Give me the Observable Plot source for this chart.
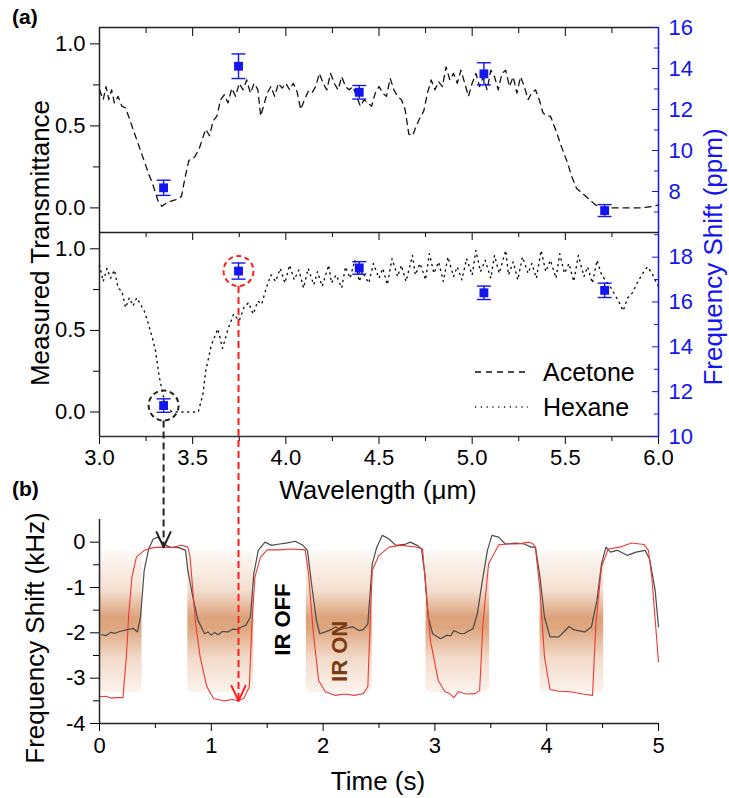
<!DOCTYPE html>
<html><head><meta charset="utf-8">
<script src="https://cdn.jsdelivr.net/npm/d3@7"></script>
<script src="https://cdn.jsdelivr.net/npm/@observablehq/plot@0.6"></script>
<style>
body{margin:0;background:#fff;}
#fig{position:relative;width:729px;height:798px;overflow:hidden;font-family:"Liberation Sans",Arial,Helvetica,sans-serif;}
#fig svg.p{position:absolute;left:0;top:0;}
.t{position:absolute;white-space:nowrap;color:#000;line-height:1;}
.rot{transform:translate(-50%,-50%) rotate(-90deg);}
</style></head><body><div id="fig"></div><script>
// ---------------- DATA ----------------
// Panel (a): measured transmittance vs wavelength (µm)
const acetoneData = [
[3.00,0.72],[3.02,0.66],[3.035,0.74],[3.05,0.66],[3.065,0.72],[3.08,0.64],[3.10,0.68],[3.12,0.62],[3.14,0.61],
[3.18,0.48],[3.225,0.335],[3.26,0.22],[3.29,0.13],[3.315,0.04],[3.335,0.01],[3.36,0.03],[3.38,0.04],[3.41,0.05],
[3.44,0.07],[3.46,0.19],[3.48,0.29],[3.51,0.31],[3.535,0.36],[3.555,0.43],[3.57,0.48],[3.59,0.44],[3.61,0.53],
[3.63,0.56],[3.65,0.66],[3.67,0.69],[3.69,0.64],[3.71,0.73],[3.73,0.68],[3.75,0.76],[3.77,0.72],[3.79,0.78],
[3.81,0.70],[3.83,0.76],[3.85,0.72],[3.865,0.56],[3.88,0.62],[3.90,0.70],[3.92,0.74],[3.94,0.68],[3.96,0.76],
[3.98,0.73],[4.00,0.76],[4.02,0.72],[4.04,0.76],[4.06,0.71],[4.08,0.60],[4.10,0.66],[4.12,0.71],[4.14,0.70],
[4.16,0.74],[4.18,0.82],[4.20,0.76],[4.22,0.72],[4.24,0.82],[4.26,0.76],[4.28,0.72],[4.30,0.80],[4.32,0.74],
[4.34,0.72],[4.36,0.74],[4.38,0.68],[4.40,0.62],[4.42,0.66],[4.44,0.64],[4.46,0.62],[4.48,0.70],[4.50,0.74],
[4.52,0.70],[4.54,0.68],[4.56,0.79],[4.58,0.72],[4.60,0.68],[4.62,0.66],[4.64,0.60],[4.66,0.45],[4.68,0.44],
[4.70,0.50],[4.72,0.55],[4.74,0.59],[4.76,0.70],[4.78,0.78],[4.80,0.72],[4.82,0.77],[4.84,0.74],[4.86,0.86],
[4.88,0.78],[4.90,0.82],[4.92,0.76],[4.94,0.84],[4.96,0.76],[4.98,0.68],[5.00,0.76],[5.02,0.82],[5.04,0.74],
[5.06,0.80],[5.08,0.72],[5.10,0.84],[5.12,0.80],[5.14,0.72],[5.16,0.82],[5.18,0.84],[5.20,0.74],[5.22,0.80],
[5.24,0.70],[5.26,0.80],[5.28,0.74],[5.30,0.66],[5.32,0.70],[5.34,0.72],[5.36,0.66],[5.38,0.58],[5.40,0.56],
[5.42,0.56],[5.45,0.47],[5.48,0.37],[5.51,0.28],[5.535,0.19],[5.56,0.12],[5.60,0.08],[5.63,0.05],[5.66,0.02],
[5.70,0.00],[5.80,0.00],[5.90,0.00],[5.98,0.01],[6.00,0.02]
];
const hexaneData = [
[3.00,0.90],[3.02,0.80],[3.04,0.88],[3.06,0.82],[3.08,0.87],[3.10,0.76],[3.12,0.74],[3.14,0.64],[3.16,0.70],
[3.18,0.65],[3.20,0.70],[3.22,0.66],[3.24,0.62],[3.26,0.55],[3.28,0.47],[3.30,0.38],[3.32,0.22],[3.34,0.11],
[3.36,0.03],[3.39,0.00],[3.53,0.00],[3.555,0.11],[3.57,0.25],[3.60,0.41],[3.635,0.51],[3.66,0.39],[3.69,0.51],
[3.72,0.60],[3.75,0.56],[3.775,0.64],[3.80,0.67],[3.825,0.60],[3.85,0.68],[3.87,0.66],[3.895,0.76],[3.92,0.84],
[3.945,0.80],[3.97,0.88],[3.995,0.79],[4.02,0.90],[4.045,0.81],[4.07,0.87],[4.095,0.76],[4.12,0.88],[4.15,0.78],
[4.17,0.86],[4.195,0.77],[4.23,0.90],[4.245,0.79],[4.27,0.84],[4.30,0.76],[4.32,0.89],[4.345,0.82],[4.37,0.93],
[4.395,0.80],[4.41,0.86],[4.445,0.79],[4.47,0.91],[4.50,0.82],[4.52,0.88],[4.545,0.78],[4.57,0.94],[4.60,0.83],
[4.62,0.90],[4.645,0.80],[4.68,0.96],[4.695,0.84],[4.72,0.91],[4.75,0.81],[4.77,0.97],[4.795,0.85],[4.82,0.92],
[4.845,0.80],[4.87,0.95],[4.90,0.83],[4.92,0.89],[4.945,0.81],[4.97,0.94],[5.00,0.84],[5.02,0.99],[5.045,0.86],
[5.07,0.93],[5.10,0.82],[5.12,0.96],[5.145,0.85],[5.18,0.99],[5.195,0.84],[5.22,0.92],[5.245,0.81],[5.27,0.95],
[5.30,0.85],[5.32,0.91],[5.345,0.82],[5.37,0.99],[5.395,0.86],[5.42,0.93],[5.45,0.82],[5.47,0.97],[5.495,0.85],
[5.52,0.91],[5.545,0.80],[5.57,0.96],[5.60,0.83],[5.62,0.89],[5.645,0.79],[5.67,0.93],[5.695,0.84],[5.72,0.80],
[5.745,0.76],[5.765,0.72],[5.79,0.67],[5.81,0.62],[5.835,0.70],[5.86,0.73],[5.885,0.79],[5.91,0.84],[5.94,0.89],
[5.965,0.85],[5.99,0.79],[6.00,0.77]
];
// Frequency shift (ppm) at five laser wavelengths
const ppmWl = [3.344, 3.746, 4.394, 5.063, 5.711];
const acetonePpm = [8.18, 14.11, 12.84, 13.74, 7.07];
const acetonePpmErr = [0.37, 0.60, 0.33, 0.54, 0.29];
const hexanePpm = [11.38, 17.38, 17.52, 16.41, 16.52];
const hexanePpmErr = [0.30, 0.36, 0.28, 0.30, 0.32];
// Panel (b): frequency shift (kHz) vs time (s)
const blackTrace = [
[0.02,-2.04],[0.06,-2.06],[0.10,-1.99],[0.14,-2.01],[0.18,-1.97],[0.23,-1.94],[0.27,-1.92],[0.30,-1.90],[0.34,-1.98],
[0.367,-1.65],[0.40,-0.62],[0.44,-0.15],[0.48,0.07],[0.52,0.11],[0.57,-0.04],[0.63,-0.11],[0.71,-0.12],[0.77,-0.18],
[0.79,-0.62],[0.835,-1.21],[0.88,-1.72],[0.94,-2.02],[0.97,-1.98],[1.00,-2.05],[1.03,-1.99],[1.06,-2.04],[1.10,-1.97],
[1.15,-1.98],[1.19,-1.92],[1.23,-1.93],[1.27,-1.87],[1.31,-1.83],[1.35,-1.65],[1.38,-0.70],[1.42,-0.18],[1.48,0.00],
[1.54,-0.07],[1.61,-0.04],[1.67,-0.02],[1.75,0.02],[1.82,-0.07],[1.86,-0.18],[1.90,-0.99],[1.94,-1.72],[1.97,-2.02],
[2.02,-1.98],[2.07,-1.93],[2.11,-1.87],[2.15,-1.92],[2.19,-1.91],[2.23,-1.88],[2.27,-1.87],[2.32,-1.95],[2.36,-1.93],
[2.40,-1.80],[2.44,-0.48],[2.48,-0.11],[2.53,0.15],[2.59,0.07],[2.65,-0.07],[2.73,-0.05],[2.78,0.00],[2.84,-0.07],
[2.88,-0.15],[2.91,-0.70],[2.94,-1.65],[2.98,-2.02],[3.05,-2.13],[3.11,-2.05],[3.14,-2.07],[3.17,-1.95],[3.22,-2.01],
[3.26,-2.02],[3.30,-1.96],[3.34,-1.91],[3.38,-1.58],[3.42,-0.92],[3.47,-0.18],[3.51,0.15],[3.57,0.11],[3.63,-0.04],
[3.72,-0.02],[3.80,-0.04],[3.86,-0.11],[3.90,-0.11],[3.94,-0.77],[3.98,-1.65],[4.03,-2.09],[4.11,-2.09],[4.16,-1.96],
[4.20,-1.86],[4.24,-1.93],[4.28,-1.95],[4.34,-1.98],[4.40,-1.87],[4.45,-1.28],[4.49,-0.48],[4.53,-0.11],[4.57,-0.22],
[4.63,-0.18],[4.72,-0.29],[4.80,-0.22],[4.88,-0.18],[4.92,-0.37],[4.97,-1.06],[5.00,-1.87]
];
const redTrace = [
[0.00,-3.41],[0.06,-3.40],[0.10,-3.44],[0.15,-3.43],[0.21,-3.43],[0.24,-2.53],[0.26,-1.65],[0.29,-0.77],[0.33,-0.33],
[0.40,-0.18],[0.48,-0.12],[0.56,-0.11],[0.65,-0.12],[0.73,-0.07],[0.79,-0.11],[0.81,-0.33],[0.86,-1.80],[0.90,-2.53],
[0.96,-3.19],[1.02,-3.45],[1.11,-3.50],[1.19,-3.47],[1.24,-3.50],[1.29,-3.45],[1.34,-3.19],[1.36,-1.94],[1.39,-0.77],
[1.44,-0.33],[1.50,-0.17],[1.61,-0.17],[1.71,-0.15],[1.84,-0.17],[1.87,-0.70],[1.91,-1.94],[1.96,-3.05],[2.02,-3.30],
[2.11,-3.38],[2.19,-3.35],[2.28,-3.38],[2.36,-3.34],[2.40,-3.19],[2.42,-1.80],[2.44,-0.62],[2.50,-0.29],[2.59,-0.11],
[2.69,-0.07],[2.82,-0.10],[2.89,-0.15],[2.92,-1.06],[2.96,-2.17],[3.03,-3.05],[3.09,-3.30],[3.13,-3.34],[3.17,-3.43],
[3.21,-3.30],[3.28,-3.35],[3.36,-3.34],[3.40,-3.27],[3.43,-1.80],[3.48,-0.48],[3.57,-0.06],[3.65,-0.04],[3.74,-0.04],
[3.84,0.00],[3.88,-0.04],[3.90,-0.15],[3.94,-1.06],[3.98,-2.53],[4.03,-3.25],[4.11,-3.29],[4.21,-3.30],[4.32,-3.35],
[4.41,-3.38],[4.44,-1.80],[4.49,-0.55],[4.55,-0.15],[4.65,-0.11],[4.76,-0.02],[4.87,-0.05],[4.91,-0.18],[4.94,-0.77],
[5.00,-2.64]
];
const irOnStart = [0.00, 0.79, 1.85, 2.92, 3.94];
const irOnEnd   = [0.38, 1.38, 2.44, 3.49, 4.51];
const bandTop = -0.2, bandBottom = -3.32;
const arrowTips = [-0.11, -3.5];   // kHz values the two arrows point to
const irLabels = [{t:1.64, k:-1.71, text:"IR OFF"}, {t:2.15, k:-2.41, text:"IR ON"}];
// tick values
const wlTicks = [3, 3.5, 4, 4.5, 5, 5.5, 6];
const wlMinor = [3.25, 3.75, 4.25, 4.75, 5.25, 5.75];
const transTicks = [0, 0.5, 1];
const transMinor = [0.25, 0.75];
const ppmTicksTop = [8, 10, 12, 14, 16];
const ppmMinorTop = [7, 9, 11, 13, 15];
const ppmTicksBot = [10, 12, 14, 16, 18];
const ppmMinorBot = [11, 13, 15, 17, 19];
const timeTicks = [0, 1, 2, 3, 4, 5];
const timeMinor = [0.5, 1.5, 2.5, 3.5, 4.5];
const khzTicks = [-4, -3, -2, -1, 0];
const khzMinor = [-3.5, -2.5, -1.5, -0.5];

// ---------------- DRAWING ----------------
const BLUE = "#1515f0";
const FONT = '"Liberation Sans", Arial, Helvetica, sans-serif';
const fig = document.getElementById("fig");
const W = 729, ML = 99, MR = 71;
const TF = 22;
const baseStyle = {background: "transparent", overflow: "visible", fontFamily: FONT, color: "#000"};
const place = (el) => { el.classList.add("p"); fig.appendChild(el); return el; };
const capSymbol = {draw(ctx, size) { const r = Math.sqrt(size / Math.PI); ctx.moveTo(-r, 0); ctx.lineTo(r, 0); }};
const noLab = () => "";
const f1 = d3.format(".1f");

const acetone = acetoneData.map(([wl, t]) => ({wl, t}));
const hexane = hexaneData.map(([wl, t]) => ({wl, t}));
const topPts = ppmWl.map((wl, i) => ({wl, v: acetonePpm[i], e: acetonePpmErr[i]}));
const botPts = ppmWl.map((wl, i) => ({wl, v: hexanePpm[i], e: hexanePpmErr[i]}));
const bands = irOnStart.map((s, i) => ({s, e: irOnEnd[i]}));

function pointMarks(pts) {
  return [
    Plot.ruleX(pts, {x: "wl", y1: d => d.v - d.e, y2: d => d.v + d.e, stroke: BLUE, strokeWidth: 1.4}),
    Plot.dot(pts, {x: "wl", y: d => d.v - d.e, symbol: capSymbol, r: 7, stroke: BLUE, fill: "none", strokeWidth: 1.4}),
    Plot.dot(pts, {x: "wl", y: d => d.v + d.e, symbol: capSymbol, r: 7, stroke: BLUE, fill: "none", strokeWidth: 1.4}),
    Plot.dot(pts, {x: "wl", y: "v", symbol: "square", r: 5, fill: BLUE, stroke: "none"})
  ];
}

// ---- panel (a) top: acetone ----
const gA1 = {width: W, height: 240, marginLeft: ML, marginRight: MR, marginTop: 27, marginBottom: 8};
place(Plot.plot({
  ...gA1, style: baseStyle,
  x: {domain: [3, 6]}, y: {domain: [-0.15, 1.1]},
  marks: [
    Plot.axisY(transTicks, {anchor: "left", tickSize: 9, tickPadding: 5, tickFormat: f1, fontSize: TF, label: null}),
    Plot.axisY(transMinor, {anchor: "left", tickSize: 6, tickFormat: noLab, label: null}),
    Plot.axisX(wlTicks, {anchor: "top", tickSize: -8, tickFormat: noLab, label: null}),
    Plot.axisX(wlMinor, {anchor: "top", tickSize: -5, tickFormat: noLab, label: null}),
    Plot.axisX(wlTicks, {anchor: "bottom", tickSize: 8, tickFormat: noLab, label: null}),
    Plot.axisX(wlMinor, {anchor: "bottom", tickSize: 5, tickFormat: noLab, label: null}),
    Plot.ruleY([1.1], {stroke: "#222", strokeWidth: 1.5}),
    Plot.ruleY([-0.15], {stroke: "#222", strokeWidth: 1.5}),
    Plot.ruleX([3], {stroke: "#222", strokeWidth: 1.5}),
    Plot.line(acetone, {x: "wl", y: "t", stroke: "#111", strokeWidth: 1.3, strokeDasharray: "6,5"})
  ]
}));
place(Plot.plot({
  ...gA1, style: baseStyle,
  x: {domain: [3, 6], axis: null}, y: {domain: [6, 16]},
  marks: [
    Plot.axisY(ppmTicksTop, {anchor: "right", tickSize: -7, tickPadding: 17, color: BLUE, fontSize: TF, label: null}),
    Plot.axisY(ppmMinorTop, {anchor: "right", tickSize: -5, tickFormat: noLab, color: BLUE, label: null}),
    Plot.ruleX([6], {stroke: BLUE, strokeWidth: 1.5}),
    ...pointMarks(topPts)
  ]
}));

// ---- panel (a) bottom: hexane ----
const gA2 = {width: W, height: 500, marginLeft: ML, marginRight: MR, marginTop: 232, marginBottom: 64};
place(Plot.plot({
  ...gA2, style: baseStyle,
  x: {domain: [3, 6]}, y: {domain: [-0.15, 1.1]},
  marks: [
    Plot.axisY(transTicks, {anchor: "left", tickSize: 9, tickPadding: 5, tickFormat: f1, fontSize: TF, label: null}),
    Plot.axisY(transMinor, {anchor: "left", tickSize: 6, tickFormat: noLab, label: null}),
    Plot.axisX(wlTicks, {anchor: "bottom", tickSize: 8, tickPadding: 5, tickFormat: f1, fontSize: TF, label: null}),
    Plot.axisX(wlMinor, {anchor: "bottom", tickSize: 5, tickFormat: noLab, label: null}),
    Plot.ruleY([-0.15], {stroke: "#333", strokeWidth: 1.5}),
    Plot.ruleX([3], {stroke: "#222", strokeWidth: 1.5}),
    Plot.line(hexane, {x: "wl", y: "t", stroke: "#111", strokeWidth: 1.4, strokeDasharray: "1.2,4.6"})
  ]
}));
const CIRCLE_R = 15;
const A2R = place(Plot.plot({
  ...gA2, style: baseStyle,
  x: {domain: [3, 6], axis: null}, y: {domain: [10, 19.1]},
  marks: [
    Plot.axisY(ppmTicksBot, {anchor: "right", tickSize: -7, tickPadding: 17, color: BLUE, fontSize: TF, label: null}),
    Plot.axisY(ppmMinorBot, {anchor: "right", tickSize: -5, tickFormat: noLab, color: BLUE, label: null}),
    Plot.ruleX([6], {stroke: BLUE, strokeWidth: 1.5}),
    ...pointMarks(botPts),
    Plot.dot([botPts[0]], {x: "wl", y: "v", r: CIRCLE_R, stroke: "#222", strokeWidth: 2, strokeDasharray: "5,3.5", fill: "none"}),
    Plot.dot([botPts[1]], {x: "wl", y: "v", r: CIRCLE_R, stroke: "#ff1e1e", strokeWidth: 2, strokeDasharray: "5,3.5", fill: "none"})
  ]
}));

// ---- panel (b) ----
function makeB(extra) {
  return Plot.plot({
    width: W, height: 798, marginLeft: ML, marginRight: MR, marginTop: 519, marginBottom: 75,
    style: baseStyle,
    x: {domain: [0, 5]}, y: {domain: [-4, 0.5]},
    marks: [
      Plot.rect(bands, {x1: "s", x2: "e", y1: bandBottom, y2: bandTop, fill: "url(#irgrad)", rx: 5}),
      Plot.line(blackTrace, {x: d => d[0], y: d => d[1], stroke: "#4a4a4a", strokeWidth: 1.2}),
      Plot.line(redTrace, {x: d => d[0], y: d => d[1], stroke: "#ee3a34", strokeWidth: 1.1}),
      Plot.text([irLabels[0]], {x: "t", y: "k", text: "text", rotate: -90, fontWeight: "bold", fontSize: 22, fill: "#000"}),
      Plot.text([irLabels[1]], {x: "t", y: "k", text: "text", rotate: -90, fontWeight: "bold", fontSize: 22, fill: "#7b3a10"}),
      Plot.ruleX([0], {stroke: "#222", strokeWidth: 1.5}),
      Plot.ruleY([-4], {stroke: "#222", strokeWidth: 1.5}),
      Plot.axisY(khzTicks, {anchor: "left", tickSize: 9, tickPadding: 5, tickFormat: d => String(d), fontSize: TF, label: null}),
      Plot.axisY(khzMinor, {anchor: "left", tickSize: 6, tickFormat: noLab, label: null}),
      Plot.axisX(timeTicks, {anchor: "bottom", tickSize: 8, tickPadding: 6, tickFormat: d => String(d), fontSize: TF, label: null}),
      Plot.axisX(timeMinor, {anchor: "bottom", tickSize: 5, tickFormat: noLab, label: null}),
      ...extra
    ]
  });
}
const tmpB = makeB([]);
const xA = A2R.scale("x"), yA = A2R.scale("y");
const xB = tmpB.scale("x"), yB = tmpB.scale("y");
const arrowColors = ["#222", "#ff1e1e"];
const HEAD_W = 7, HEAD_L = 15;
const arrowMarks = [0, 1].flatMap(i => {
  const px = xA.apply(ppmWl[i]);
  const t = xB.invert(px);
  const tipPx = yB.apply(arrowTips[i]);
  const shaft = {t, y1: yB.invert(yA.apply(hexanePpm[i]) + CIRCLE_R), y2: arrowTips[i]};
  const wy = yB.invert(tipPx - HEAD_L);
  const wings = [
    {x1: xB.invert(px - HEAD_W), y1: wy, x2: t, y2: arrowTips[i]},
    {x1: xB.invert(px + HEAD_W), y1: wy, x2: t, y2: arrowTips[i]}
  ];
  return [
    Plot.link([shaft], {x1: "t", x2: "t", y1: "y1", y2: "y2", stroke: arrowColors[i], strokeWidth: 2, strokeDasharray: "7,4"}),
    Plot.link(wings, {x1: "x1", y1: "y1", x2: "x2", y2: "y2", stroke: arrowColors[i], strokeWidth: 2, strokeLinecap: "round"})
  ];
});
const B = place(makeB(arrowMarks));
// gradient for IR-ON bands
const defs = d3.select(B).insert("defs", ":first-child");
const grad = defs.append("linearGradient").attr("id", "irgrad").attr("x1", 0).attr("x2", 0).attr("y1", 0).attr("y2", 1);
[[0, "#fdf9f6"], [0.28, "#f4dfd0"], [0.47, "#dca27b"], [0.55, "#dea77f"], [0.76, "#f3dbca"], [1, "#fbf3ed"]]
  .forEach(([o, c]) => grad.append("stop").attr("offset", o).attr("stop-color", c));

// ---------------- TEXT (titles, legend) ----------------
function txt(html, css, cls = "t") {
  const d = document.createElement("div"); d.className = cls; d.innerHTML = html;
  Object.assign(d.style, css); fig.appendChild(d); return d;
}
txt("(a)", {left: "12px", top: "6px", fontSize: "21px", fontWeight: "bold"});
txt("(b)", {left: "12px", top: "478px", fontSize: "21px", fontWeight: "bold"});
txt("Measured Transmittance", {left: "40px", top: "243px", fontSize: "26px"}, "t rot");
txt("Frequency Shift (ppm)", {left: "713px", top: "257px", fontSize: "26px", color: BLUE}, "t rot");
txt("Frequency Shift (kHz)", {left: "35px", top: "638px", fontSize: "26px"}, "t rot");
txt("Wavelength (&mu;m)", {left: "378px", top: "490px", fontSize: "26px", transform: "translate(-50%,-50%)"});
txt("Time (s)", {left: "378px", top: "781px", fontSize: "26px", transform: "translate(-50%,-50%)"});
// legend
const leg = d3.select(fig).append("svg").attr("width", 200).attr("height", 80)
  .style("position", "absolute").style("left", "470px").style("top", "350px");
leg.append("line").attr("x1", 5).attr("x2", 58).attr("y1", 22).attr("y2", 22)
  .attr("stroke", "#111").attr("stroke-width", 1.3).attr("stroke-dasharray", "6,5");
leg.append("line").attr("x1", 5).attr("x2", 58).attr("y1", 57).attr("y2", 57)
  .attr("stroke", "#111").attr("stroke-width", 1.4).attr("stroke-dasharray", "1.2,4.6");
leg.append("text").attr("x", 73).attr("y", 31).text("Acetone").attr("font-size", 25).attr("font-family", FONT);
leg.append("text").attr("x", 73).attr("y", 66).text("Hexane").attr("font-size", 25).attr("font-family", FONT);
</script></body></html>
